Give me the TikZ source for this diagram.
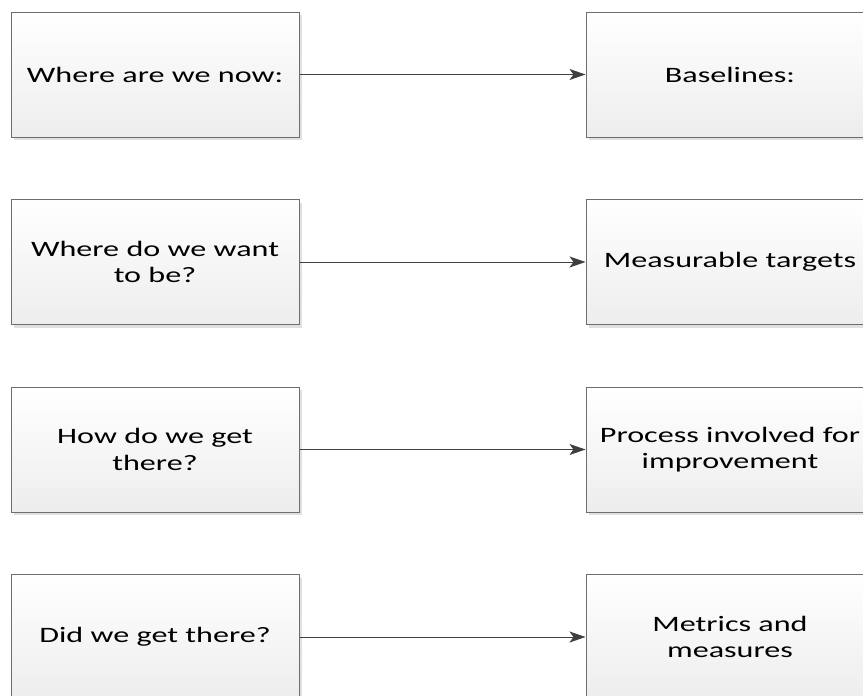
\documentclass[tikz,border=0pt]{standalone}
\usepackage{fontspec}
\setmainfont{Carlito}[FakeStretch=1.46]
\usetikzlibrary{arrows.meta,shadows}
\definecolor{boxline}{HTML}{6E6E6E}
\definecolor{boxtop}{HTML}{FFFFFF}
\definecolor{boxbot}{HTML}{EDEDED}
\definecolor{arrowcol}{HTML}{3F3F3F}
\tikzset{
  stagebox/.style={draw=boxline, line width=1pt, top color=boxtop, bottom color=boxbot,
    minimum width=288pt, minimum height=125pt, inner sep=4pt, align=center,
    text width=276pt, font=\fontsize{22}{26.5}\selectfont,
    drop shadow={shadow xshift=3pt, shadow yshift=-3pt, fill=black, opacity=0.12}},
  link/.style={draw=arrowcol, line width=1pt, -{Stealth[length=16pt,width=11pt,inset=4pt]}}
}
\begin{document}
\begin{tikzpicture}[x=1pt,y=-1pt]
\useasboundingbox (0,0) rectangle (863,696);
\clip (0,0) rectangle (863,696);
% left column: questions
\node[stagebox] (q1) at (155,74.5) {Where are we now:};
\node[stagebox] (q2) at (155,262) {Where do we want\\to be?};
\node[stagebox] (q3) at (155,449.5) {How do we get\\there?};
\node[stagebox] (q4) at (155,637) {Did we get there?};
% right column: answers
\node[stagebox] (a1) at (730,74.5) {Baselines:};
\node[stagebox] (a2) at (730,262) {Measurable targets};
\node[stagebox] (a3) at (730,449.5) {Process involved for\\improvement};
\node[stagebox] (a4) at (730,637) {Metrics and\\measures};
% connectors
\draw[link] (q1) -- (a1);
\draw[link] (q2) -- (a2);
\draw[link] (q3) -- (a3);
\draw[link] (q4) -- (a4);
\end{tikzpicture}
\end{document}
